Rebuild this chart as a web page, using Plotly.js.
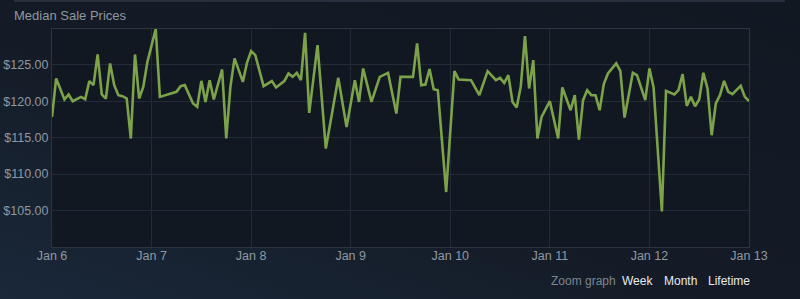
<!DOCTYPE html>
<html>
<head>
<meta charset="utf-8">
<script src="https://cdn.plot.ly/plotly-3.0.1.min.js"></script>
<style>
  html, body { margin: 0; padding: 0; }
  body {
    width: 800px; height: 299px; overflow: hidden;
    background: linear-gradient(200deg, #121822 0%, #141b26 55%, #1a283a 100%);
  }
  #chart { width: 800px; height: 299px; }
</style>
</head>
<body>
<div id="chart"></div>
<script>
// Hours since Jan 6 00:00 for each sample
const hoursSinceStart = [0,1,3,4,5,7,8,9,10,11,12,13,14,15,16,17,18,19,20,21,22,23,
  25,26,30,31,32,34,35,36,37,38,39,41,42,43,44,46,47,
  48,49,51,53,54,56,57,58,59,60,61,62,64,66,69,71,73,74,75,77,79,81,83,84,87,88,89,90,91,92,93,95,
  97,98,101,103,105,107,108,109,110,111,112,113,114,115,116,117,118,120,122,123,125,126,127,128,129,130,131,132,133,134,136,137,138,140,141,143,
  144,145,147,148,150,151,152,153,154,155,156,157,158,159,160,161,162,163,164,166,167,168];

// Median sale price (USD)
const medianPrices = [117.84,123.12,120.23,120.92,120.00,120.59,120.27,122.75,122.20,126.41,120.92,120.37,125.18,122.20,120.82,120.69,120.37,114.88,126.41,120.37,121.96,125.40,
  129.90,120.59,121.28,122.06,122.20,119.68,119.22,122.79,119.90,122.88,120.23,124.35,114.88,121.96,125.87,122.65,125.26,
  126.87,126.32,122.06,122.75,121.88,122.75,123.80,123.34,123.89,122.88,129.38,118.39,127.69,113.50,123.20,116.47,122.88,119.90,124.49,119.90,123.34,123.89,118.31,123.34,123.34,127.93,122.20,122.29,124.40,121.65,121.51,107.54,
  124.12,122.98,122.88,120.82,124.12,122.88,123.20,122.51,123.57,119.90,119.13,122.06,128.93,121.74,125.63,114.88,117.84,120.00,114.88,121.88,118.76,120.82,114.74,120.14,121.51,120.82,120.82,118.76,122.34,123.80,125.18,124.12,117.76,123.89,123.57,120.14,
  124.49,121.88,104.89,121.41,120.92,121.51,123.71,119.35,120.59,119.31,120.23,123.89,121.74,115.33,119.68,120.82,122.79,121.28,120.96,122.10,120.59,120.00];

const yTickValues = [105, 110, 115, 120, 125];
const yTickLabels = ["$105.00", "$110.00", "$115.00", "$120.00", "$125.00"];
const zoomLabel = "Zoom graph";
const zoomOptions = ["Week", "Month", "Lifetime"];

const startMs = Date.UTC(2025, 0, 6, 0, 0, 0);
function isoFromHours(h) {
  const d = new Date(startMs + h * 3600000);
  return d.toISOString().slice(0, 19).replace("T", " ");
}
const xDates = hoursSinceStart.map(isoFromHours);

const trace = {
  x: xDates,
  y: medianPrices,
  type: "scatter",
  mode: "lines",
  line: { color: "#7da34a", width: 2.6 },
  hoverinfo: "x+y"
};

const font = "Arial, 'Liberation Sans', sans-serif";
const zoomPos = [0.815, 0.875, 0.938];

const annotations = [{
  text: zoomLabel, xref: "paper", yref: "paper", x: 0.7125, y: -0.156,
  xanchor: "left", yanchor: "middle", showarrow: false,
  font: { family: font, size: 12, color: "#7d8690" }
}].concat(zoomOptions.map((t, i) => ({
  text: t, xref: "paper", yref: "paper", x: zoomPos[i], y: -0.156,
  xanchor: "left", yanchor: "middle", showarrow: false,
  font: { family: font, size: 12, color: "#e6eaee" }
})));

const layout = {
  width: 800, height: 299,
  margin: { l: 52, r: 51, t: 29, b: 52 },
  paper_bgcolor: "rgba(0,0,0,0)",
  plot_bgcolor: "#111822",
  showlegend: false,
  title: {
    text: "Median Sale Prices",
    x: 0.0175, xanchor: "left", xref: "container",
    y: 0.95, yanchor: "middle", yref: "container",
    font: { family: font, size: 13, color: "#8f98a0" }
  },
  xaxis: {
    type: "date",
    range: [isoFromHours(0), isoFromHours(168)],
    dtick: 86400000,
    tick0: isoFromHours(0),
    tickformat: "%b %-d",
    showgrid: true, gridcolor: "#222b37", gridwidth: 1,
    zeroline: false,
    showline: true, linecolor: "#2b3542", mirror: true, linewidth: 1,
    ticks: "", ticklen: 0,
    ticklabelstandoff: -3,
    tickfont: { family: font, size: 12.5, color: "#8f98a0" },
    fixedrange: true
  },
  yaxis: {
    range: [100, 129.9],
    tickvals: yTickValues,
    ticktext: yTickLabels,
    showgrid: true, gridcolor: "#222b37", gridwidth: 1,
    zeroline: false,
    showline: true, linecolor: "#2b3542", mirror: true, linewidth: 1,
    ticks: "", ticklen: 0,
    tickfont: { family: font, size: 12.5, color: "#8f98a0" },
    fixedrange: true
  },
  shapes: [{
    type: "line", xref: "paper", yref: "paper",
    x0: -0.0545, x1: 1.0516, y0: 1.128, y1: 1.128,
    line: { color: "#27303c", width: 2 }
  }],
  annotations: annotations
};

Plotly.newPlot("chart", [trace], layout, { displayModeBar: false, staticPlot: true });
</script>
</body>
</html>
